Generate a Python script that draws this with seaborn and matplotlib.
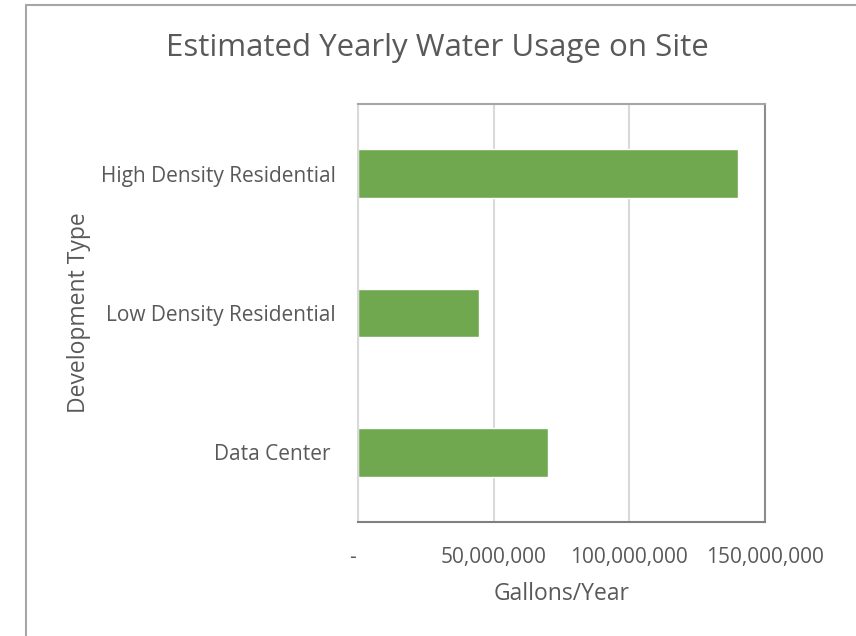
import matplotlib
matplotlib.use('Agg')
import matplotlib.pyplot as plt
import matplotlib.transforms as mtransforms
from matplotlib.lines import Line2D
import pandas as pd
import seaborn as sns

# --- data ---
categories = ['High Density Residential', 'Low Density Residential', 'Data Center ']
gallons_per_year = [140_000_000, 44_500_000, 70_000_000]
x_ticks = [0, 50_000_000, 100_000_000, 150_000_000]
x_tick_labels = ['-', '50,000,000', '100,000,000', '150,000,000']

TEXT = '#595959'
GREEN = '#70a84f'

sns.set_theme(style='white')
plt.rcParams['font.family'] = ['Open Sans', 'DejaVu Sans']

df = pd.DataFrame({'type': categories, 'gallons': gallons_per_year})

fig = plt.figure(figsize=(8.56, 6.36), dpi=100)
ax = fig.add_axes([358 / 856, 114 / 636, 407 / 856, 418 / 636])

sns.barplot(data=df, x='gallons', y='type', order=categories, color=GREEN,
            width=0.35, saturation=1, ax=ax)

ax.set_xlim(0, 150_000_000)
ax.set_ylim(2.5, -0.5)
ax.set_xticks(x_ticks)
ax.set_xticklabels(x_tick_labels)
ax.xaxis.grid(True, color='#d9d9d9', linewidth=1.5)
ax.set_axisbelow(True)
ax.tick_params(axis='both', length=0, labelsize=15, colors=TEXT)
ax.tick_params(axis='x', pad=18)
ax.tick_params(axis='y', pad=16)

# nudge the "-" zero label a little to the left, like Excel's accounting format
zero_lab = ax.get_xticklabels()[0]
zero_lab.set_transform(zero_lab.get_transform() +
                       mtransforms.ScaledTranslation(-6 / 100, 0, fig.dpi_scale_trans))

for side, col in [('left', '#d9d9d9'), ('bottom', '#808080'),
                  ('right', '#8c8c8c'), ('top', '#a6a6a6')]:
    ax.spines[side].set_visible(True)
    ax.spines[side].set_color(col)
    ax.spines[side].set_linewidth(1.5)

ax.set_xlabel('Gallons/Year', fontsize=16.5, color=TEXT)
ax.set_ylabel('Development Type', fontsize=16.5, color=TEXT)
ax.xaxis.label.set_va('center')
ax.yaxis.label.set_va('center')
ax.xaxis.set_label_coords(0.5, -0.172)
ax.yaxis.set_label_coords(-0.686, 0.5)

fig.text(0.511, 0.9245, 'Estimated Yearly Water Usage on Site',
         ha='center', va='center', fontsize=22.5, color=TEXT)

# outer chart border (only the top and left edges are inside the crop)
fig.add_artist(Line2D([26 / 856, 26 / 856], [0, 1 - 5 / 636],
                      transform=fig.transFigure, color='#a6a6a6', lw=1.5))
fig.add_artist(Line2D([26 / 856, 1], [1 - 5 / 636, 1 - 5 / 636],
                      transform=fig.transFigure, color='#a6a6a6', lw=1.5))

fig.savefig('out.png', dpi=100)
